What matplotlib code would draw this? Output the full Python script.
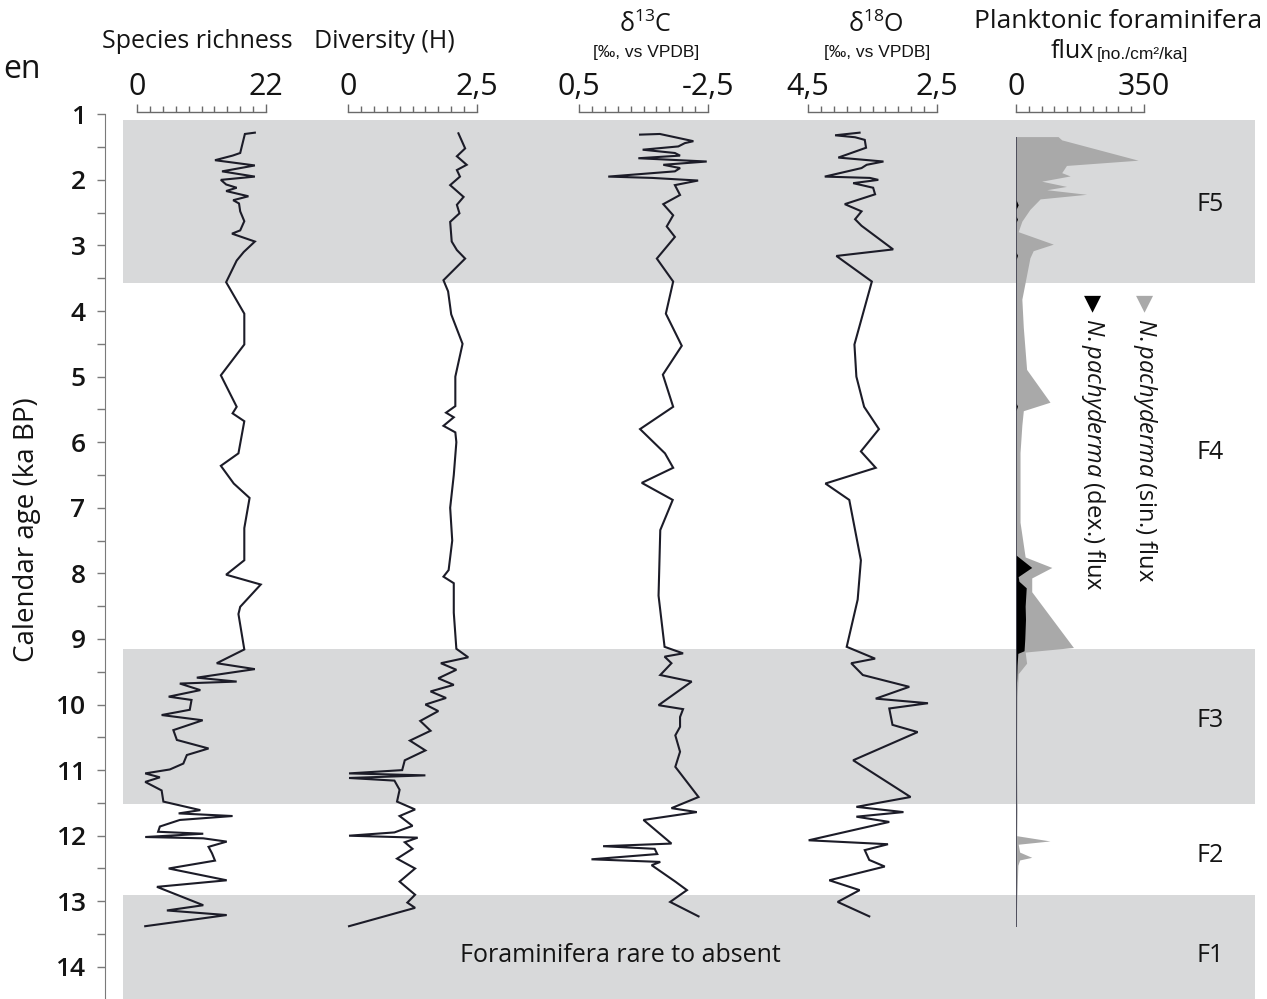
import numpy as np
import matplotlib
matplotlib.use("Agg")
import matplotlib.pyplot as plt
from matplotlib.ticker import FixedLocator, FixedFormatter

plt.rcParams['font.family'] = ['Open Sans', 'DejaVu Sans']
plt.rcParams['mathtext.fontset'] = 'custom'
plt.rcParams['mathtext.rm'] = 'Open Sans'
plt.rcParams['mathtext.it'] = 'Open Sans:italic'
plt.rcParams['text.color'] = '#141414'

# ---- data (ka BP, value) ----
sr_age = [1.28, 1.30, 1.59, 1.63, 1.70, 1.78, 1.87, 1.95, 2.00, 2.07, 2.12, 2.17, 2.25, 2.31,
          2.36, 2.48, 2.63, 2.77, 2.82, 2.94, 3.10, 3.23, 3.56, 4.04, 4.51, 4.98, 5.46, 5.56,
          5.68, 6.17, 6.36, 6.63, 6.85, 7.31, 7.80, 8.02, 8.17, 8.51, 8.62, 9.16, 9.37, 9.46,
          9.59, 9.65, 9.68, 9.78, 9.88, 9.93, 10.08, 10.16, 10.24, 10.39, 10.54, 10.67, 10.77,
          10.90, 10.99, 11.05, 11.11, 11.18, 11.31, 11.48, 11.61, 11.66, 11.70, 11.76, 11.86,
          11.94, 11.97, 12.02, 12.04, 12.09, 12.17, 12.27, 12.38, 12.50, 12.68, 12.78, 13.06,
          13.14, 13.21, 13.38]
sr_val = [20.1, 18.4, 17.6, 16.3, 13.3, 20.1, 14.5, 20.1, 14.3, 15.2, 17.0, 15.2, 19.0, 16.4,
          17.4, 17.6, 18.3, 17.6, 16.2, 20.1, 18.2, 17.0, 15.2, 18.3, 18.3, 14.3, 17.0, 16.3,
          18.3, 17.3, 14.3, 16.5, 19.2, 18.3, 18.3, 15.2, 21.1, 17.6, 17.3, 18.3, 13.6, 20.1,
          10.2, 17.0, 7.3, 10.8, 5.4, 9.3, 9.0, 4.2, 11.2, 6.2, 6.8, 12.2, 8.5,
          7.9, 5.6, 1.4, 3.9, 1.4, 4.2, 4.5, 10.8, 7.1, 16.3, 7.3, 3.9,
          3.6, 11.3, 1.4, 11.3, 15.3, 12.2, 12.8, 13.3, 5.4, 15.3, 3.4, 11.3,
          5.1, 15.3, 1.4]

dv_age = [1.29, 1.52, 1.64, 1.77, 1.85, 1.95, 2.08, 2.26, 2.38, 2.51, 2.64, 2.94, 3.07, 3.20,
          3.53, 3.70, 4.05, 4.50, 5.00, 5.45, 5.55, 5.62, 5.75, 5.85, 6.00, 6.50, 7.00, 7.50,
          7.95, 8.05, 8.15, 8.60, 9.15, 9.28, 9.37, 9.47, 9.60, 9.70, 9.80, 9.90, 10.00, 10.10,
          10.25, 10.40, 10.55, 10.70, 10.85, 11.00, 11.05, 11.08, 11.12, 11.16, 11.30, 11.48,
          11.60, 11.70, 11.85, 11.95, 12.00, 12.03, 12.10, 12.20, 12.35, 12.50, 12.70, 12.90,
          13.02, 13.10, 13.38]
dv_val = [2.14, 2.27, 2.11, 2.30, 2.11, 2.17, 1.98, 2.24, 2.11, 2.16, 1.98, 2.01, 2.11, 2.27,
          1.85, 1.94, 2.00, 2.22, 2.08, 2.08, 1.90, 2.05, 1.85, 2.08, 2.10, 2.05, 1.98, 2.02,
          1.95, 1.85, 2.05, 2.05, 2.10, 2.33, 1.80, 2.10, 1.75, 2.05, 1.60, 1.90, 1.50, 1.75,
          1.40, 1.60, 1.20, 1.50, 1.10, 1.05, 0.02, 1.50, 0.02, 0.90, 1.00, 0.95,
          1.30, 1.00, 1.25, 0.90, 0.02, 1.35, 1.10, 1.25, 0.95, 1.30, 1.00, 1.30,
          1.15, 1.30, 0.02]

c13_age = [1.31, 1.30, 1.41, 1.44, 1.49, 1.54, 1.59, 1.63, 1.67, 1.72, 1.77, 1.82, 1.87, 1.95,
           1.97, 1.99, 2.01, 2.08, 2.23, 2.37, 2.54, 2.71, 2.87, 3.20, 3.55, 4.04, 4.53, 4.97,
           5.46, 5.80, 6.17, 6.39, 6.62, 6.88, 7.34, 8.34, 9.12, 9.22, 9.27, 9.37, 9.55, 9.65,
           10.01, 10.07, 10.19, 10.34, 10.47, 10.72, 10.95, 11.41, 11.58, 11.64, 11.76, 12.12,
           12.16, 12.20, 12.28, 12.36, 12.40, 12.45, 12.70, 12.83, 13.01, 13.23]
c13_val = [-0.92, -1.38, -2.16, -1.96, -1.81, -0.98, -1.73, -1.85, -0.88, -2.47, -1.46, -1.85,
           -1.73, -0.18, -1.20, -1.73, -2.27, -1.73, -1.85, -1.46, -1.69, -1.54, -1.73, -1.31,
           -1.69, -1.52, -1.89, -1.45, -1.69, -0.92, -1.50, -1.69, -0.96, -1.68, -1.39, -1.35,
           -1.49, -1.92, -1.49, -1.65, -1.39, -2.12, -1.35, -1.92, -1.85, -1.85, -1.74, -1.85,
           -1.74, -2.28, -1.65, -2.24, -1.00, -1.65, -0.06, -1.26, -1.32, 0.21, -1.39, -1.19,
           -1.74, -2.01, -1.62, -2.28]

o18_age = [1.28, 1.32, 1.35, 1.39, 1.51, 1.66, 1.72, 1.77, 1.82, 1.95, 1.97, 2.00, 2.05, 2.12,
           2.22, 2.37, 2.48, 2.60, 2.70, 3.06, 3.16, 3.55, 4.51, 5.00, 5.46, 5.80, 6.14, 6.39,
           6.63, 6.88, 7.80, 8.40, 9.12, 9.30, 9.37, 9.55, 9.73, 9.91, 9.98, 10.06, 10.31, 10.42,
           10.85, 11.41, 11.56, 11.64, 11.71, 11.79, 12.07, 12.13, 12.22, 12.37, 12.47, 12.68,
           12.83, 13.01, 13.23]
o18_val = [3.70, 4.08, 3.77, 3.62, 3.60, 4.03, 3.33, 3.59, 3.67, 4.24, 3.54, 3.41, 3.80, 3.49,
           3.46, 3.93, 3.67, 3.77, 3.67, 3.18, 4.06, 3.51, 3.78, 3.75, 3.63, 3.40, 3.68, 3.45,
           4.23, 3.86, 3.68, 3.73, 3.90, 3.46, 3.83, 3.65, 2.93, 3.45, 2.64, 3.24, 3.19, 2.80,
           3.80, 2.91, 3.75, 3.02, 3.75, 3.24, 4.49, 3.26, 3.62, 3.55, 3.31, 4.17,
           3.70, 4.04, 3.55]

sin_age = [1.34, 1.39, 1.70, 1.78, 1.89, 1.94, 2.02, 2.10, 2.15, 2.22, 2.29, 2.45, 2.63, 2.79,
           2.98, 3.08, 3.19, 3.82, 4.25, 4.89, 5.39, 5.52, 5.74, 6.16, 7.22, 7.75, 7.91, 8.07,
           8.28, 9.13, 9.20, 9.37, 9.53, 9.88, 10.50, 11.00, 11.60, 12.00, 12.08, 12.13, 12.25,
           12.33, 12.37, 12.45, 13.00, 13.39]
sin_val = [115, 125, 334, 138, 125, 148, 70, 138, 84, 193, 66, 38, 16, 6,
           102, 47, 38, 16, 20, 29, 93, 20, 16, 11, 11, 25, 98, 43,
           43, 157, 25, 29, 6, 3, 2, 2, 3, 2, 93, 6, 10,
           43, 10, 5, 2, 0]

dex_age = [1.34, 2.30, 2.38, 2.45, 2.55, 2.60, 2.65, 3.10, 3.15, 3.22, 5.40, 5.45, 5.52, 7.72,
           7.91, 8.05, 8.12, 8.22, 8.50, 8.70, 9.00, 9.18, 9.22, 9.40, 9.60, 9.80, 13.39]
dex_val = [0, 0, 6, 0, 0, 4, 0, 0, 4, 0, 0, 4, 0, 0,
           43, 6, 8, 28, 25, 26, 24, 22, 5, 3, 2, 0, 0]

zones = ["F5", "F4", "F3", "F2", "F1"]
zone_top = [1.08, 3.57, 9.16, 11.52, 12.90]
zone_bot = [3.57, 9.16, 11.52, 12.90, 14.60]
zone_label_age = [2.38, 6.15, 10.24, 12.30, 13.82]
zone_shaded = [True, False, True, False, True]

W, H = 1267, 999
AGE_TOP, AGE_BOT = -0.743, 14.49   # ages at figure top / bottom


def fx(px):
    return px / W


def fy(py):
    return 1 - py / H


fig = plt.figure(figsize=(W / 100, H / 100), dpi=100)

# background axis with age scale and zone shading
ax0 = fig.add_axes([fx(105), 0, fx(1255) - fx(105), 1])
ax0.set_xlim(0, 1)
ax0.set_ylim(AGE_BOT, AGE_TOP)
ax0.patch.set_visible(False)
for t, b, s in zip(zone_top, zone_bot, zone_shaded):
    if s:
        ax0.axhspan(t, b, xmin=18 / 1150, xmax=1, color='#d8d9da', lw=0, zorder=0)
for sp in ['top', 'right', 'bottom']:
    ax0.spines[sp].set_visible(False)
ax0.spines['left'].set_bounds(1, AGE_BOT)
ax0.spines['left'].set_color('#7a7a7a')
ax0.set_xticks([])
ax0.set_yticks(np.arange(1, 15))
ax0.set_yticks(np.arange(1.5, 14.5, 1.0), minor=True)
ax0.tick_params(axis='y', which='both', length=6, width=1, color='#7a7a7a',
                labelsize=19, pad=8, labelcolor='#141414')
for lab in ax0.get_yticklabels():
    lab.set_fontweight('semibold')
for z, a in zip(zones, zone_label_age):
    ax0.text(0.961, a, z, ha='center', va='center', fontsize=18)
ax0.text(0.448, 13.82, "Foraminifera rare to absent", ha='center', va='center',
         fontsize=18)

fig.text(fx(27), fy(530), "Calendar age (ka BP)", rotation=90, ha='center', va='center',
         fontsize=20)
fig.text(fx(3), fy(70), "en", ha='left', va='center', fontsize=23)

# panels: pixel extent of the scale bar, limits, end labels
panels = [
    (137, 266, (0, 22), ("0", "22")),
    (348, 477, (0, 2.5), ("0", "2,5")),
    (579, 708, (0.5, -2.5), ("0,5", "-2,5")),
    (808, 937, (4.5, 2.5), ("4,5", "2,5")),
    (1016, 1144, (0, 350), ("0", "350")),
]
axes = []
for x0, x1, lim, labs in panels:
    ax = fig.add_axes([fx(x0), 0, fx(x1) - fx(x0), fy(112)])
    ax.set_xlim(*lim)
    ax.set_ylim(AGE_BOT, 0.965)
    ax.patch.set_visible(False)
    for sp in ['left', 'right', 'bottom']:
        ax.spines[sp].set_visible(False)
    ax.spines['top'].set_color('#6a6a6a')
    ax.spines['top'].set_linewidth(1)
    ax.set_yticks([])
    ax.xaxis.set_ticks_position('top')
    ax.xaxis.set_major_locator(FixedLocator(list(lim)))
    ax.xaxis.set_major_formatter(FixedFormatter(list(labs)))
    ax.xaxis.set_minor_locator(FixedLocator(np.linspace(lim[0], lim[1], 11)[1:-1]))
    ax.tick_params(axis='x', which='major', length=6, width=1, color='#6a6a6a',
                   labelsize=22, pad=1, labelcolor='#141414')
    ax.tick_params(axis='x', which='minor', length=4.5, width=1, color='#6a6a6a')
    axes.append(ax)

line_kw = dict(color='#1c1c28', lw=1.5, clip_on=False, solid_joinstyle='miter')
axes[0].plot(sr_val, sr_age, **line_kw)
axes[1].plot(dv_val, dv_age, **line_kw)
axes[2].plot(c13_val, c13_age, **line_kw)
axes[3].plot(o18_val, o18_age, **line_kw)

axf = axes[4]
axf.fill_betweenx(sin_age, 0, sin_val, color='#a9a9a9', lw=0, clip_on=False)
axf.fill_betweenx(dex_age, 0, dex_val, color='#000000', lw=0, clip_on=False)
axf.vlines(0, sin_age[0], sin_age[-1], color='#3a3a4a', lw=1.2)

# titles
unit_font = ['Liberation Sans', 'DejaVu Sans']
fig.text(fx(197), fy(42), "Species richness", ha='center', va='center', fontsize=18)
fig.text(fx(384), fy(42), "Diversity (H)", ha='center', va='center', fontsize=18)
fig.text(fx(645), fy(25), "δ$^{13}$C", ha='center', va='center', fontsize=18)
fig.text(fx(646), fy(53), "[‰, vs VPDB]", ha='center', va='center', fontsize=12.5,
         family=unit_font)
fig.text(fx(876), fy(25), "δ$^{18}$O", ha='center', va='center', fontsize=18)
fig.text(fx(877), fy(53), "[‰, vs VPDB]", ha='center', va='center', fontsize=12.5,
         family=unit_font)
fig.text(fx(1118), fy(22), "Planktonic foraminifera", ha='center', va='center', fontsize=19)
fig.text(fx(1094), fy(52), "flux", ha='right', va='center', fontsize=18)
fig.text(fx(1097), fy(54), "[no./cm²/ka]", ha='left', va='center', fontsize=12.5,
         family=unit_font)

# legend
fig.text(fx(1092), fy(303), "▼", ha='center', va='center', fontsize=16, color='#000000',
         family='DejaVu Sans')
fig.text(fx(1145), fy(303), "▼", ha='center', va='center', fontsize=16, color='#a9a9a9',
         family='DejaVu Sans')
fig.text(fx(1093), fy(318), r"$\mathit{N.pachyderma}$ (dex.) flux", rotation=270,
         ha='center', va='top', fontsize=17)
fig.text(fx(1145), fy(318), r"$\mathit{N.pachyderma}$ (sin.) flux", rotation=270,
         ha='center', va='top', fontsize=17)

fig.savefig("out.png", dpi=100)
